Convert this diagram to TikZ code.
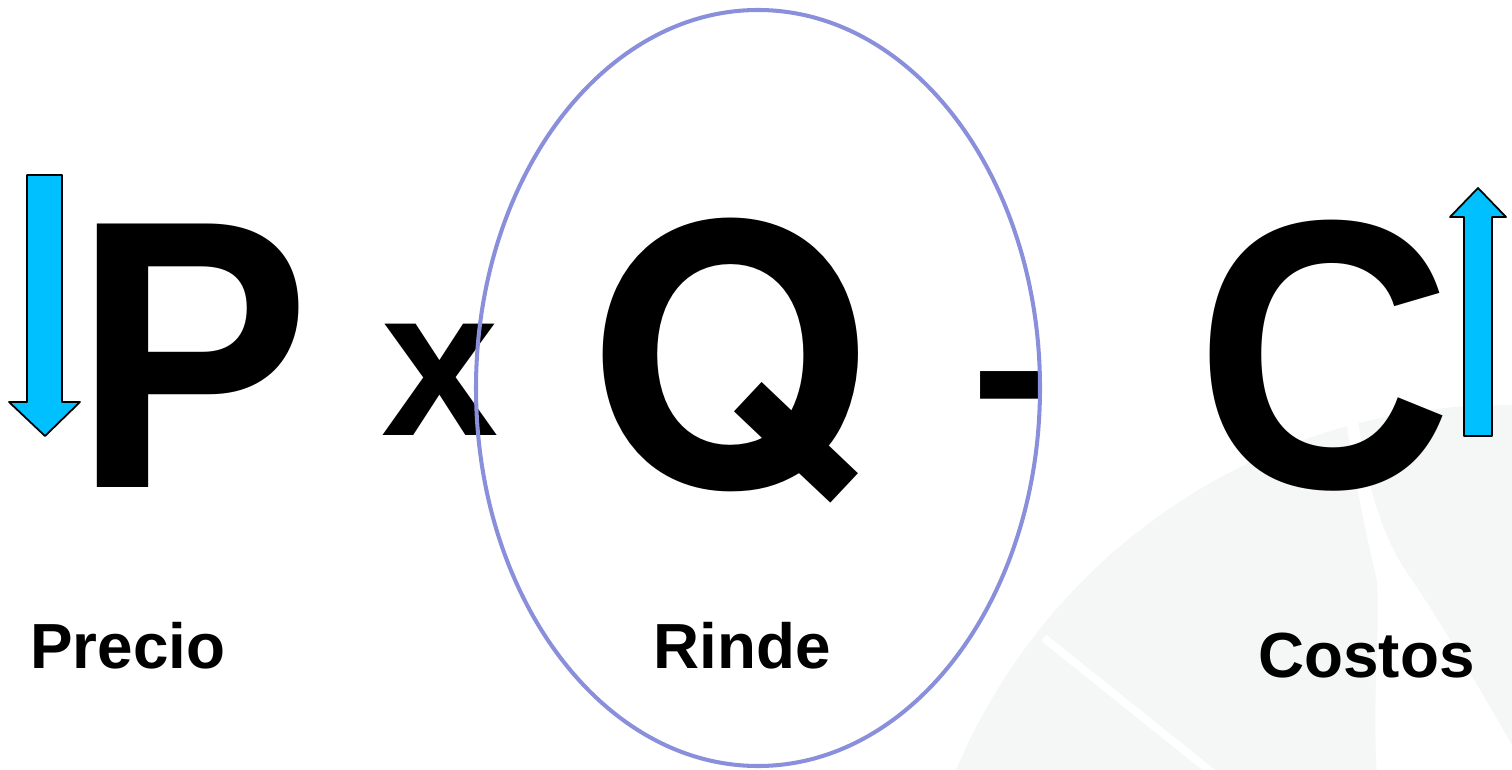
\documentclass[tikz,border=0pt]{standalone}
\usepackage{fontspec}
\setmainfont{Liberation Sans}
\newfontfamily\estrecha[FakeStretch=0.93]{Liberation Sans}
\newfontfamily\helv{TeX Gyre Heros}
\definecolor{fondo}{RGB}{245,246,246}
\definecolor{celeste}{RGB}{0,192,255}
\definecolor{elipse}{RGB}{138,143,219}

\begin{document}
\begin{tikzpicture}[x=0.02cm,y=-0.02cm,line join=round,
  letra/.style={inner sep=0pt,anchor=base,font=\estrecha\bfseries\fontsize{218}{218}\selectfont},
  signo/.style={inner sep=0pt,anchor=base,font=\bfseries\fontsize{120}{120}\selectfont},
  rotulo/.style={inner sep=0pt,anchor=base west,font=\bfseries\fontsize{36.3}{40}\selectfont},
  flecha/.style={fill=celeste,draw=black,line width=1pt}]
\useasboundingbox (0,0) rectangle (1512,770);
% fondo de la diapositiva
\begin{scope}
\clip (0,0) rectangle (1512,770);
\fill[fondo] (1505,1000) circle [radius=595];
\draw[white,line width=4.5pt] (1044,638) -- (1215,775);
\fill[white] (1346,420) -- (1358,420) .. controls (1366,480) and (1380,530) .. (1403,567)
  .. controls (1440,620) and (1480,690) .. (1512,745) -- (1512,775) -- (1377,775)
  .. controls (1372,700) and (1380,640) .. (1377,580)
  .. controls (1365,530) and (1355,480) .. (1346,420) -- cycle;
\end{scope}
% formula
\node[letra] (P) at (192,487) {P};
\node[signo] (por) at (440,436) {x};
\node[letra,font=\helv\bfseries\fontsize{207}{207}\selectfont] (Q) at (729,487) {Q};
\node[signo,font=\bfseries\fontsize{132}{132}\selectfont] (menos) at (1010,445) {-};
\node[letra] (C) at (1324,487) {C};
% rotulos
\node[rotulo] (precio) at (30,668) {Precio};
\node[rotulo] (rinde) at (653.5,668) {Rinde};
\node[rotulo] (costos) at (1258,677) {Costos};
% flechas
\filldraw[flecha] (27,175) -- (62,175) -- (62,402) -- (80,402) -- (45,436) -- (9,402) -- (27,402) -- cycle;
\filldraw[flecha] (1464,436) -- (1492,436) -- (1492,217) -- (1506,217) -- (1478,188) -- (1450,217) -- (1464,217) -- cycle;
% elipse
\draw[elipse,line width=2.3pt] (758,388) ellipse [x radius=282, y radius=378];
\end{tikzpicture}
\end{document}
